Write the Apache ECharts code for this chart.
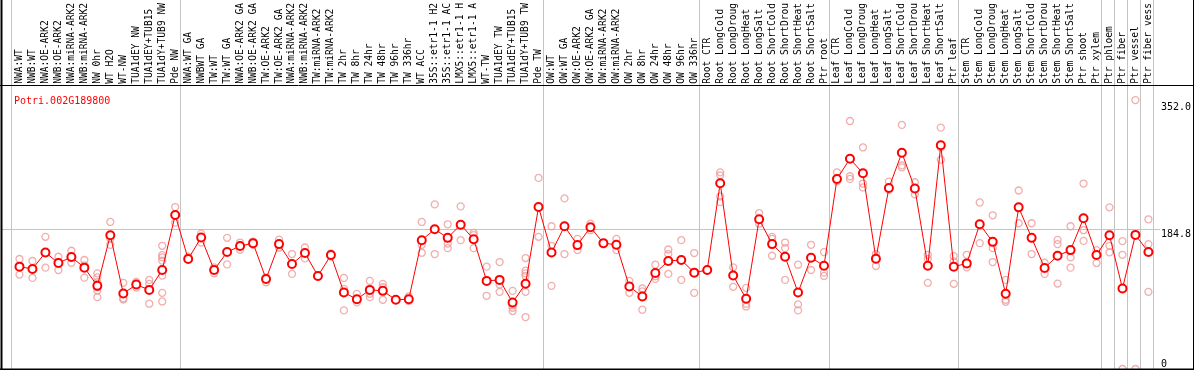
<!DOCTYPE html>
<html><head><meta charset="utf-8">
<script src="https://cdn.jsdelivr.net/npm/echarts@6/dist/echarts.min.js"></script>
<style>html,body{margin:0;padding:0;background:#fff}#c{width:1194px;height:370px}</style>
</head><body><div id="c"></div>
<script>
const geneId = 'Potri.002G189800';

const categories = [
  "NWA:WT","NWB:WT","NWA:OE-ARK2","NWB:OE-ARK2","NWA:miRNA-ARK2","NWB:miRNA-ARK2","NW 0hr","WT H2O","WT-NW","TUA1dEY NW","TUA1dEY+TUB15","TUA1dY+TUB9 NW","Pde NW",
  "NWA:WT GA","NWBWT GA","TW:WT","TW:WT GA","NWA:OE-ARK2 GA","NWB:OE-ARK2 GA","TW:OE-ARK2","TW:OE-ARK2 GA","NWA:miRNA-ARK2","NWB:miRNA-ARK2","TW:miRNA-ARK2","TW:miRNA-ARK2","TW 2hr","TW 8hr","TW 24hr","TW 48hr","TW 96hr","TW 336hr","WT ACC","35S::etr1-1 H2","35S::etr1-1 AC","LMX5::etr1-1 H","LMX5::etr1-1 A","WT-TW","TUA1dEY TW","TUA1dEY+TUB15","TUA1dY+TUB9 TW","Pde TW",
  "OW:WT","OW:WT GA","OW:OE-ARK2","OW:OE-ARK2 GA","OW:miRNA-ARK2","OW:miRNA-ARK2","OW 2hr","OW 8hr","OW 24hr","OW 48hr","OW 96hr","OW 336hr",
  "Root CTR","Root LongCold","Root LongDroug","Root LongHeat","Root LongSalt","Root ShortCold","Root ShortDrou","Root ShortHeat","Root ShortSalt","Ptr root",
  "Leaf CTR","Leaf LongCold","Leaf LongDroug","Leaf LongHeat","Leaf LongSalt","Leaf ShortCold","Leaf ShortDrou","Leaf ShortHeat","Leaf ShortSalt","Ptr leaf",
  "Stem CTR","Stem LongCold","Stem LongDroug","Stem LongHeat","Stem LongSalt","Stem ShortCold","Stem ShortDrou","Stem ShortHeat","Stem ShortSalt","Ptr shoot","Ptr xylem",
  "Ptr phloem","Ptr fiber","Ptr vessel","Ptr fiber vess"
];

const means = [
  135.3,132.2,154.1,140.1,148.0,134.0,109.9,176.9,99.8,111.6,104.6,130.9,203.6,
  145.4,173.8,130.9,154.6,162.5,166.4,119.1,165.1,138.8,153.3,123.0,150.6,101.1,92.3,104.6,103.3,91.5,92.3,170.3,184.8,173.4,190.8,171.6,116.5,117.8,88.0,112.6,214.1,
  154.1,188.7,163.8,187.4,166.4,164.2,109.0,95.9,127.0,142.8,144.1,127.4,
  130.9,245.6,123.5,92.8,197.9,165.1,148.4,101.1,147.1,136.6,
  251.3,278.0,258.7,145.8,239.4,285.9,238.6,136.6,295.9,135.3,
  139.6,191.3,168.1,99.4,213.7,173.4,133.6,149.7,157.2,199.2,150.6,
  176.9,106.4,177.3,154.6
];

const replicates = [
  [145.4,124.8,135.7],[142.8,120.4,133.4],[174.7,134.0,153.6],[148.4,130.9,141.0],[156.3,140.5,147.2],[144.1,120.8,137.1],
  [126.5,121.2,114.7,108.1,103.8,95.0],[194.4,164.2,172.1],[113.9,91.9,93.6],[115.2,107.7,111.9],[117.8,112.6,86.3],
  [162.9,150.6,147.5,143.2,123.5,100.7,89.3],[214.1,193.5,203.2],
  [148.4,145.0],[179.0,167.2],[134.4,126.5],[173.4,138.3],[167.2,157.6],[168.5,164.2],[121.2,114.7],[171.1,160.6],
  [152.0,125.7],[160.6,146.2],[124.0,122.0],[152.7,148.5],[120.4,106.0,77.5],[99.4,88.0],[116.5,99.4,95.0],
  [112.6,108.1,91.5],[92.0,91.0],[95.9,89.7],[194.4,164.2,153.7],[217.6,152.0],[191.3,165.9,159.8],[215.0,170.3],
  [179.9,177.0,159.8],[135.3,96.8],[141.4,111.6,102.0],[103.3,84.1,81.0,76.6],[146.7,130.0,126.5,123.0,102.0,68.7],[252.6,174.7],
  [188.7,162.9,109.9],[225.5,152.0],[172.1,157.2],[192.1,183.5],[166.0,165.0],[172.1,157.2],[116.5,100.7],
  [106.4,102.5,78.4],[137.9,122.5,119.1],[158.0,152.0,125.7],[170.3,117.8],[153.3,100.7],
  [131.5,130.0],[260.0,256.1,228.1,220.6],[134.4,108.6],[107.3,86.3,82.7],[206.2,192.1],[174.7,172.0,149.7],
  [167.2,159.8,117.8],[137.9,85.4,77.5],[164.2,130.9],[154.6,127.4,123.0],
  [260.0,248.2],[327.9,254.8,251.3],[292.9,245.2,240.0],[152.0,136.2],[247.8,236.8],[322.7,269.2,266.6],
  [246.9,230.8],[151.0,145.4,113.9],[319.1,292.9,276.7],[149.3,142.2,112.6],
  [151.0,134.4],[220.2,166.4],[203.2,159.8,141.4],[117.8,91.5,88.9],[236.0,192.7],[192.7,152.0],[140.5,125.7],
  [170.7,165.1,112.9],[188.7,147.5,134.0],[245.2,183.5,169.4],[157.2,140.1],
  [213.7,162.9,154.1],[169.0,151.0,0],[355.5,0],[197.9,165.1,102.0]
];

const groupBreaks = [0,13,41,53,63,73,84,85,86,87,88];
const yTickValues = [184.8, 352.0];
const yZeroTick = [0];
const refLineValue = 184.8;

const mono = 'DejaVu Sans Mono';
const chart = echarts.init(document.getElementById('c'), null, {renderer: 'canvas'});

const repPoints = [];
replicates.forEach((r, i) => r.forEach(v => repPoints.push([i, v])));

const option = {
  animation: false,
  backgroundColor: '#fff',
  title: {
    text: geneId, left: 9, top: 91,
    textStyle: {color: '#ff0000', fontSize: 10, fontFamily: mono, fontWeight: 'normal'}
  },
  grid: {left: 13, right: 37, top: 85, bottom: 1, containLabel: false},
  xAxis: [{
    type: 'category', data: categories, position: 'top', boundaryGap: true,
    axisLine: {show: false}, axisTick: {show: false}, splitLine: {show: false},
    axisLabel: {interval: 0, rotate: 90, margin: 3, fontSize: 9.6, fontFamily: mono, color: '#000'}
  }, {
    type: 'value', min: 0.14, max: 88.14, show: false
  }],
  yAxis: [{
    type: 'value', min: 0, max: 373, position: 'right',
    axisLine: {show: false}, axisTick: {show: false}, splitLine: {show: false},
    axisLabel: {customValues: yTickValues, formatter: v => v.toFixed(1), verticalAlign: 'top',
      margin: 6, fontSize: 10, fontFamily: mono, color: '#000'}
  }, {
    type: 'value', min: 0, max: 373, position: 'right',
    axisLine: {show: false}, axisTick: {show: false}, splitLine: {show: false},
    axisLabel: {customValues: yZeroTick, formatter: v => String(v), verticalAlign: 'bottom',
      margin: 6, fontSize: 10, fontFamily: mono, color: '#000'}
  }],
  series: [{
    type: 'scatter', data: repPoints, symbol: 'circle', symbolSize: 7, z: 3,
    itemStyle: {color: 'rgba(0,0,0,0)', borderColor: '#ee9a9a', borderWidth: 1.3},
    clip: false, silent: true
  }, {
    type: 'line', data: means, symbol: 'emptyCircle', symbolSize: 8, z: 4,
    lineStyle: {color: '#ff0000', width: 1},
    itemStyle: {color: '#ff0000', borderColor: '#ff0000', borderWidth: 1.6},
    silent: true
  }, {
    type: 'line', xAxisIndex: 1, data: [], silent: true
  }]
};
chart.setOption(option);

const yBottom = chart.convertToPixel({yAxisIndex: 0}, 0);
const g = [];
groupBreaks.forEach(k => {
  const x = Math.round(chart.convertToPixel({xAxisIndex: 1}, k)) + 0.5;
  g.push({type: 'line', z: 0, shape: {x1: x, y1: 0, x2: x, y2: yBottom}, style: {stroke: '#c4c4c4', lineWidth: 1}});
});
const yRef = Math.round(chart.convertToPixel({yAxisIndex: 0}, refLineValue)) + 0.5;
g.push({type: 'line', z: 0, shape: {x1: 1, y1: yRef, x2: 1160, y2: yRef}, style: {stroke: '#c4c4c4', lineWidth: 1}});
const yb = Math.round(yBottom) + 0.5;
g.push({type: 'line', z: 10, shape: {x1: 0, y1: 85.5, x2: 1194, y2: 85.5}, style: {stroke: '#000', lineWidth: 1}});
g.push({type: 'line', z: 10, shape: {x1: 0, y1: yb, x2: 1194, y2: yb}, style: {stroke: '#000', lineWidth: 2}});
g.push({type: 'line', z: 10, shape: {x1: 1.5, y1: 0, x2: 1.5, y2: 370}, style: {stroke: '#000', lineWidth: 2}});
g.push({type: 'line', z: 10, shape: {x1: 1193.5, y1: 0, x2: 1193.5, y2: 370}, style: {stroke: '#000', lineWidth: 1}});
chart.setOption({graphic: {elements: g}});
</script>
</body></html>
